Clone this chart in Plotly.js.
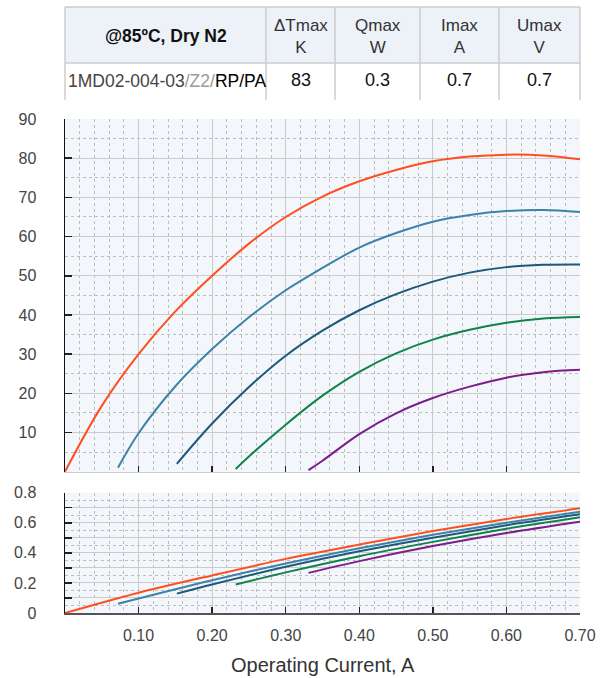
<!DOCTYPE html>
<html>
<head>
<meta charset="utf-8">
<script src="https://cdn.plot.ly/plotly-3.0.1.min.js"></script>
<style>html,body{margin:0;padding:0;background:#fff;}#chart{width:603px;height:678px;}</style>
</head>
<body>
<div id="chart"></div>
<script>
// ---- Data ----
const seriesNames = ['Q=0', 'Q1', 'Q2', 'Q3', 'Q4'];
const seriesColors = ['#ff4f1f', '#3b84a8', '#1c597a', '#0f8349', '#7c1d8b'];

// Delta T (K) vs current (A)
const dtI0 = [0, 0.05, 0.10, 0.15, 0.20, 0.25, 0.30, 0.35, 0.40, 0.45, 0.50, 0.55, 0.60, 0.65, 0.70];
const dtV0 = [0, 16.8, 30.0, 40.9, 50.0, 58.2, 65.0, 70.2, 74.1, 77.0, 79.2, 80.4, 80.9, 80.7, 79.7];
const dtI1 = [0.072, 0.10, 0.15, 0.20, 0.25, 0.30, 0.35, 0.40, 0.45, 0.50, 0.55, 0.60, 0.65, 0.70];
const dtV1 = [1.0, 9.8, 21.8, 31.3, 39.4, 46.3, 52.0, 57.2, 60.9, 63.8, 65.5, 66.5, 66.8, 66.3];
const dtI2 = [0.152, 0.20, 0.25, 0.30, 0.35, 0.40, 0.45, 0.50, 0.55, 0.60, 0.65, 0.70];
const dtV2 = [2.0, 12.3, 21.6, 29.6, 36.0, 41.2, 45.3, 48.5, 50.8, 52.2, 52.8, 52.9];
const dtI3 = [0.232, 0.25, 0.30, 0.35, 0.40, 0.45, 0.50, 0.55, 0.60, 0.65, 0.70];
const dtV3 = [0.7, 3.9, 12.0, 19.4, 25.5, 30.2, 33.7, 36.2, 38.0, 39.1, 39.5];
const dtI4 = [0.331, 0.35, 0.40, 0.45, 0.50, 0.55, 0.60, 0.65, 0.70];
const dtV4 = [0.4, 2.8, 9.6, 14.9, 18.8, 21.7, 24.0, 25.4, 26.0];

// Voltage (V) vs current (A)
const uI0 = [0, 0.10, 0.20, 0.30, 0.40, 0.50, 0.60, 0.70];
const uV0 = [0, 0.135, 0.25, 0.36, 0.455, 0.545, 0.625, 0.696];
const uI1 = [0.072, 0.20, 0.30, 0.40, 0.50, 0.60, 0.70];
const uV1 = [0.062, 0.218, 0.329, 0.43, 0.52, 0.60, 0.673];
const uI2 = [0.152, 0.20, 0.30, 0.40, 0.50, 0.60, 0.70];
const uV2 = [0.129, 0.19, 0.307, 0.41, 0.50, 0.583, 0.656];
const uI3 = [0.232, 0.30, 0.40, 0.50, 0.60, 0.70];
const uV3 = [0.189, 0.27, 0.378, 0.473, 0.56, 0.636];
const uI4 = [0.331, 0.40, 0.50, 0.60, 0.70];
const uV4 = [0.267, 0.345, 0.445, 0.532, 0.607];

// Tick labels
const xTickVals = [0.1, 0.2, 0.3, 0.4, 0.5, 0.6, 0.7];
const xTickText = ['0.10', '0.20', '0.30', '0.40', '0.50', '0.60', '0.70'];
const yTopTickVals = [10, 20, 30, 40, 50, 60, 70, 80, 90];
const yBotTickVals = [0, 0.1, 0.2, 0.3, 0.4, 0.5, 0.6, 0.7, 0.8];
const yBotTickText = ['0', '', '0.2', '', '0.4', '', '0.6', '', '0.8'];

// Spec table
const tableHead = ['@85ºC, Dry N2', 'ΔTmax<br>K', 'Qmax<br>W', 'Imax<br>A', 'Umax<br>V'];
const tableRow = ['1MD02-004-03<span style="color:#9a9a9a">/Z2/</span><span style="color:#000">RP/PA</span>', '83', '0.3', '0.7', '0.7'];

// ---- Build ----
const dtI = [dtI0, dtI1, dtI2, dtI3, dtI4];
const dtV = [dtV0, dtV1, dtV2, dtV3, dtV4];
const uI = [uI0, uI1, uI2, uI3, uI4];
const uV = [uV0, uV1, uV2, uV3, uV4];

const traces = [];
for (let k = 0; k < 5; k++) {
  traces.push({x: dtI[k], y: dtV[k], xaxis: 'x', yaxis: 'y', mode: 'lines', name: seriesNames[k],
    line: {color: seriesColors[k], width: 2, shape: 'spline', smoothing: 1}, hoverinfo: 'skip'});
}
for (let k = 0; k < 5; k++) {
  traces.push({x: uI[k], y: uV[k], xaxis: 'x2', yaxis: 'y2', mode: 'lines', name: seriesNames[k],
    line: {color: seriesColors[k], width: 2, shape: 'spline', smoothing: 0.8}, hoverinfo: 'skip'});
}

const W = 603, H = 678, ML = 65, MR = 23, MT = 119, MB = 65;
const PW = W - ML - MR, PH = H - MT - MB;
const px = x => (x - ML) / PW;
const py = y => (H - MB - y) / PH;

const FONT = 'Liberation Sans, Arial, Helvetica, sans-serif';
const gridCol = '#cbcbcb', minorCol = '#bdbdbd';

const shapes = [];
// header background
shapes.push({type: 'rect', xref: 'paper', yref: 'paper', x0: px(65), x1: px(580), y0: py(63), y1: py(7),
  fillcolor: '#edf1f8', line: {width: 0}, layer: 'below'});
// horizontal lines
[7, 63].forEach(y => shapes.push({type: 'line', xref: 'paper', yref: 'paper', x0: px(65), x1: px(580), y0: py(y), y1: py(y),
  line: {color: '#cdcdcd', width: 1.5}}));
// vertical lines
const colEdges = [65, 266, 335, 420, 499, 580];
colEdges.forEach(x => shapes.push({type: 'line', xref: 'paper', yref: 'paper', x0: px(x), x1: px(x), y0: py(7), y1: py(100),
  line: {color: '#cdcdcd', width: 1.5}}));

const annotations = [];
for (let c = 0; c < 5; c++) {
  const cx = (colEdges[c] + colEdges[c + 1]) / 2;
  annotations.push({xref: 'paper', yref: 'paper', x: px(cx), y: py(36), xanchor: 'center', yanchor: 'middle',
    text: c === 0 ? '<b>' + tableHead[c] + '</b>' : tableHead[c], showarrow: false,
    font: {family: FONT, size: c === 0 ? 17.5 : 17, color: c === 0 ? '#111' : '#333'}});
  if (c === 0) {
    annotations.push({xref: 'paper', yref: 'paper', x: px(66), y: py(81), xanchor: 'left', yanchor: 'middle',
      text: tableRow[c], showarrow: false, font: {family: FONT, size: 17.5, color: '#444'}});
  } else {
    annotations.push({xref: 'paper', yref: 'paper', x: px(cx), y: py(80), xanchor: 'center', yanchor: 'middle',
      text: tableRow[c], showarrow: false, font: {family: FONT, size: 18, color: '#111'}});
  }
}
annotations.push({xref: 'paper', yref: 'paper', x: 0.5, y: py(665), xanchor: 'center', yanchor: 'middle',
  text: 'Operating Current, A', showarrow: false, font: {family: FONT, size: 20, color: '#333'}});

const topBottom = py(471.7);
const botTop = py(492.7);

const commonX = {
  range: [0, 0.7], tickmode: 'array', tickvals: xTickVals, ticktext: xTickText,
  ticks: 'inside', ticklen: 6, tickwidth: 1.5, tickcolor: '#222',
  showgrid: true, gridcolor: gridCol, gridwidth: 1,
  minor: {tickmode: 'linear', tick0: 0, dtick: 0.02, showgrid: true, gridcolor: minorCol, griddash: 'dot', gridwidth: 1, ticks: ''},
  zeroline: false, fixedrange: true,
  tickfont: {family: FONT, size: 16, color: '#444'}
};

const layout = {
  width: W, height: H,
  margin: {l: ML, r: MR, t: MT, b: MB, pad: 0},
  paper_bgcolor: '#ffffff', plot_bgcolor: '#f3f6fa',
  showlegend: false,
  font: {family: FONT},
  xaxis: Object.assign({}, commonX, {domain: [0, 1], anchor: 'y', showticklabels: false,
    showline: true, linecolor: '#cccccc', linewidth: 1.5}),
  yaxis: {domain: [topBottom, 1], anchor: 'x', range: [0, 90], tickmode: 'array', tickvals: yTopTickVals,
    ticks: 'inside', ticklen: 7, tickwidth: 1.5, tickcolor: '#222',
    showgrid: true, gridcolor: gridCol, gridwidth: 1,
    minor: {tickmode: 'linear', tick0: 0, dtick: 5, showgrid: true, gridcolor: minorCol, griddash: 'dot', gridwidth: 1, ticks: ''},
    showline: true, linecolor: '#111', linewidth: 1.5, zeroline: false, fixedrange: true,
    ticklabelstandoff: 24,
    tickfont: {family: FONT, size: 16, color: '#444'}},
  xaxis2: Object.assign({}, commonX, {domain: [0, 1], anchor: 'y2', showticklabels: true,
    showline: true, linecolor: '#555555', linewidth: 1.5, ticklabelstandoff: 7}),
  yaxis2: {domain: [0, botTop], anchor: 'x2', range: [0, 0.8], tickmode: 'array', tickvals: yBotTickVals, ticktext: yBotTickText,
    ticks: 'inside', ticklen: 7, tickwidth: 1.5, tickcolor: '#222',
    showgrid: true, gridcolor: gridCol, gridwidth: 1,
    minor: {tickmode: 'linear', tick0: 0, dtick: 0.05, showgrid: true, gridcolor: minorCol, griddash: 'dot', gridwidth: 1, ticks: ''},
    showline: true, linecolor: '#111', linewidth: 1.5, zeroline: false, fixedrange: true,
    ticklabelstandoff: 24,
    tickfont: {family: FONT, size: 16, color: '#444'}},
  shapes: shapes,
  annotations: annotations
};

Plotly.newPlot('chart', traces, layout, {staticPlot: true, displayModeBar: false});
</script>
</body>
</html>
